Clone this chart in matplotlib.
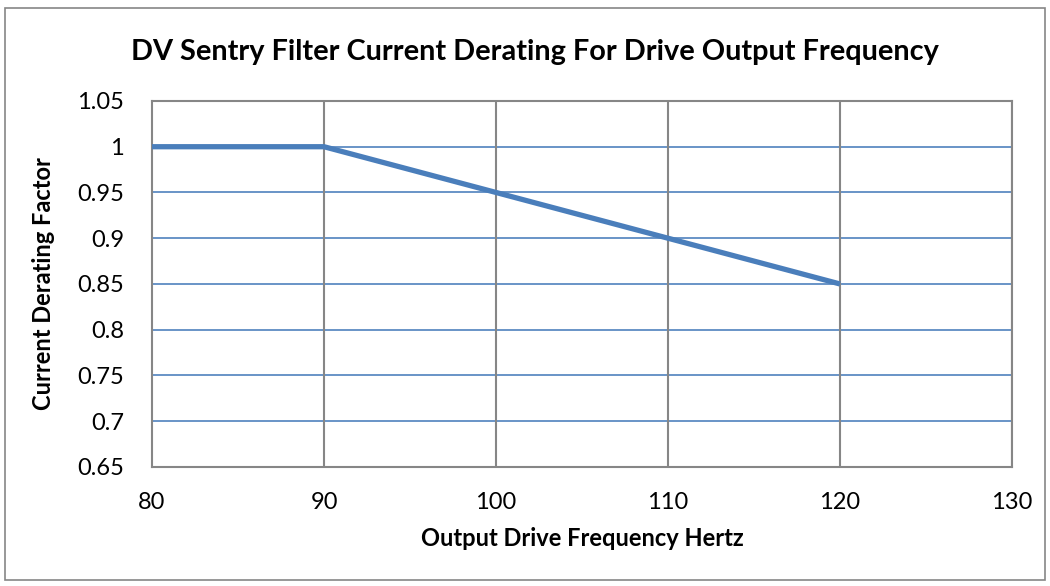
import matplotlib.pyplot as plt
from matplotlib.patches import Rectangle

# ---- data ----
freq_hz = [80, 90, 100, 110, 120]
derating = [1.0, 1.0, 0.95, 0.90, 0.85]
x_ticks = [80, 90, 100, 110, 120, 130]
y_ticks = [0.65, 0.7, 0.75, 0.8, 0.85, 0.9, 0.95, 1.0, 1.05]
y_labels = ['0.65', '0.7', '0.75', '0.8', '0.85', '0.9', '0.95', '1', '1.05']

plt.rcParams['font.family'] = ['Lato', 'DejaVu Sans']

fig = plt.figure(figsize=(10.5, 5.86), dpi=100)
ax = fig.add_axes([0.1448, 0.2031, 0.819, 0.6246])

# outer chart border
fig.patches.append(Rectangle((5 / 1050, 1 - 580 / 586), 1040 / 1050, 572 / 586,
                             transform=fig.transFigure, fill=False,
                             edgecolor='#868686', linewidth=1.2))

ax.plot(freq_hz, derating, color='#4A7EBB', linewidth=3.8, solid_capstyle='butt', zorder=3)

ax.set_xlim(80, 130)
ax.set_ylim(0.65, 1.05)
ax.set_xticks(x_ticks)
ax.set_yticks(y_ticks)
ax.set_yticklabels(y_labels)
ax.tick_params(length=0, labelsize=17, colors='black')
ax.tick_params(axis='x', pad=18)
ax.tick_params(axis='y', pad=20)

for v in y_ticks[1:]:
    ax.axhline(v, color='#4F81BD', linewidth=1.2, zorder=1)
for v in x_ticks[1:]:
    ax.axvline(v, color='#868686', linewidth=1.5, zorder=2)

for s in ax.spines.values():
    s.set_color('#868686')
    s.set_linewidth(1.5)

ax.set_xlabel('Output Drive Frequency Hertz', fontsize=17, fontweight='bold', labelpad=10)
ax.set_ylabel('Current Derating Factor', fontsize=17, fontweight='bold', labelpad=16)
fig.text(0.5095, 1 - 52 / 586, 'DV Sentry Filter Current Derating For Drive Output Frequency',
         ha='center', va='center', fontsize=20.8, fontweight='bold')

fig.savefig('out.png', dpi=100)
